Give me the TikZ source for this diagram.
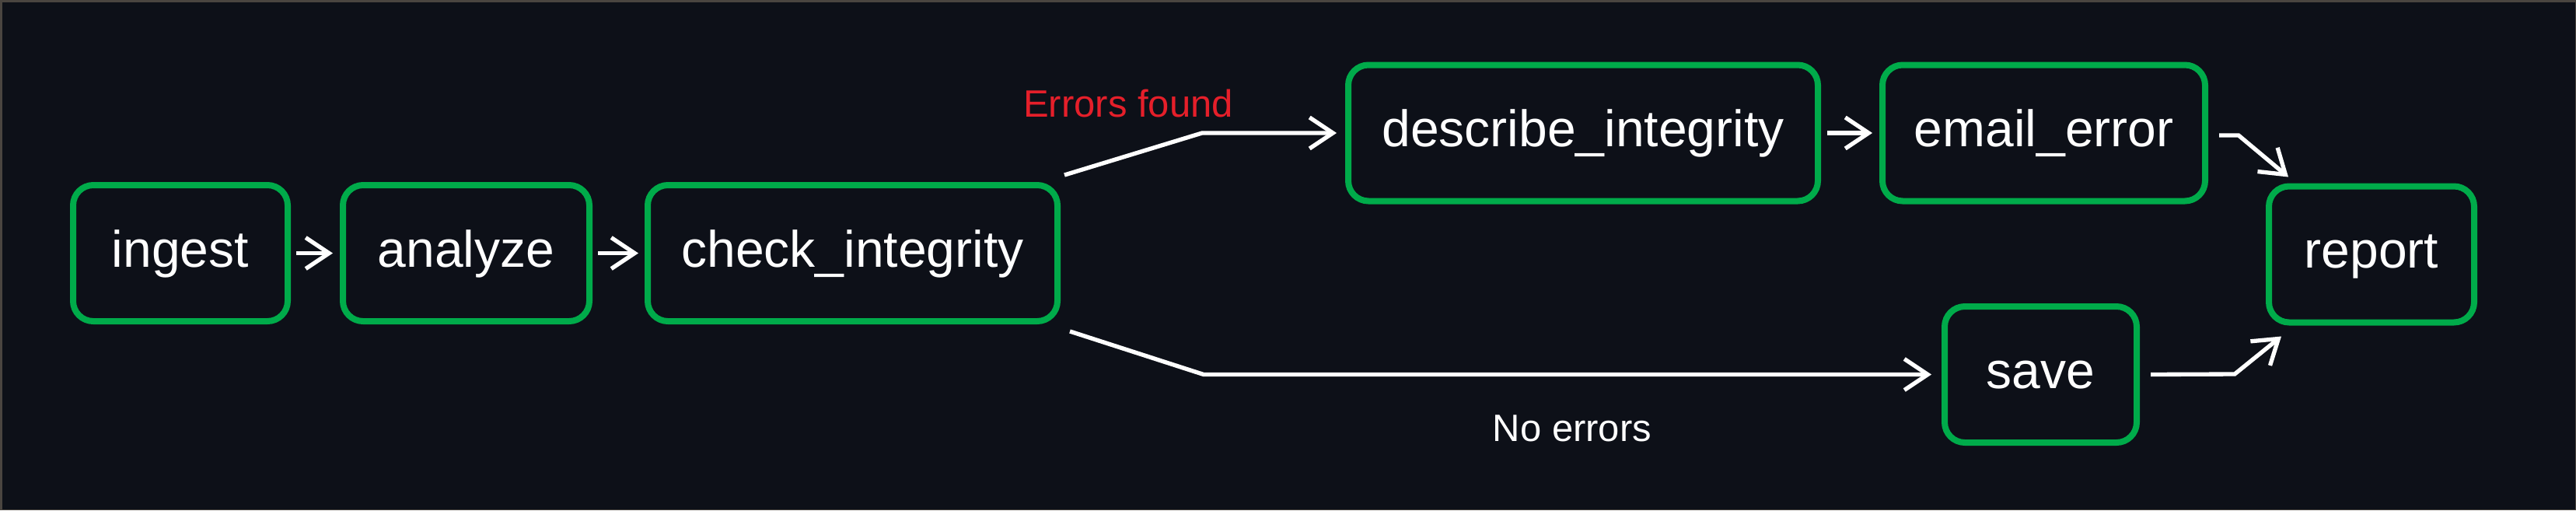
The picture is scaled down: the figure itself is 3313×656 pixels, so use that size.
\documentclass[tikz,border=0pt]{standalone}
\usepackage{fontspec}
\setmainfont{Liberation Sans}
\usetikzlibrary{arrows.meta}
\definecolor{bgc}{HTML}{0D1018}
\definecolor{framec}{HTML}{4A4540}
\definecolor{boxg}{HTML}{00AB4A}
\definecolor{errred}{HTML}{E51F2A}
\tikzset{
  stage/.style={draw=boxg, line width=2.4pt, rounded corners=7.8pt, fill=bgc,
    text=white, font=\fontsize{19.8pt}{22pt}\selectfont, inner sep=0pt,
    text height=14.25pt, text depth=3.75pt, minimum height=52.5pt},
  arr/.style={draw=white, line width=1.6pt, -{Straight Barb[length=9pt,width=12pt]}},
  lbl/.style={font=\fontsize{14.7pt}{17pt}\selectfont, inner sep=0pt}
}
\begin{document}
\begin{tikzpicture}[x=0.3pt,y=-0.3pt]
\useasboundingbox (0,0) rectangle (3313,656);
\fill[framec] (0,0) rectangle (3313,656);
\fill[bgc] (3,3) rectangle (3312,655);

\node[stage, minimum width=82.8pt] (ingest) at (232,325.5) {ingest};
\node[stage, minimum width=95.1pt] (analyze) at (599.5,325.5) {analyze};
\node[stage, minimum width=158.1pt] (check) at (1096.5,325.5) {check\_integrity};
\node[stage, minimum width=181.2pt] (describe) at (2036,171) {describe\_integrity};
\node[stage, minimum width=124.5pt] (email) at (2628.5,171) {email\_error};
\node[stage, minimum width=74.1pt] (save) at (2624.5,481.5) {save};
\node[stage, minimum width=79.2pt] (report) at (3050,327) {report};

\node[lbl, text=errred] (errlbl) at (1451,133) {Errors found};
\node[lbl, text=white] (oklbl) at (2022,551) {No errors};

\draw[arr, shorten <=2.1pt, shorten >=2.7pt] (ingest.east) -- (analyze.west);
\draw[arr, shorten <=2.1pt, shorten >=2.4pt] (analyze.east) -- (check.west);
\draw[arr, shorten >=3.3pt] ([shift={(5,-9)}]check.north east) -- (1546,171) -- (describe.west);
\draw[arr, shorten >=3.9pt] ([shift={(12,9)}]check.south east) -- (1548,481.5) -- (save.west);
\draw[arr, shorten <=2.4pt, shorten >=2.7pt] (describe.east) -- (email.west);
\draw[arr] ([shift={(14,3)}]email.east) -- (2879,174) -- ([shift={(29,-8)}]report.north west);
\draw[arr] ([shift={(14,0)}]save.east) -- (2874,481) -- ([shift={(20,14)}]report.south west);
\end{tikzpicture}
\end{document}
